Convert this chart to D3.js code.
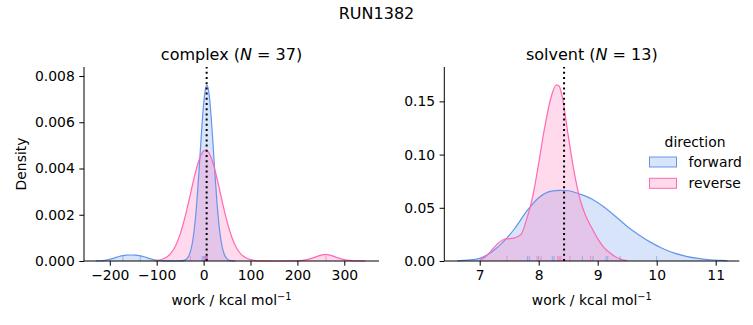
<!DOCTYPE html>
<html>
<head>
<meta charset="utf-8">
<script src="https://cdn.jsdelivr.net/npm/d3@7"></script>
<style>
  body { margin: 0; background: #fff; }
  svg, svg text { font-family: "DejaVu Sans", sans-serif; }
  .tick text { font-size: 13.9px; fill: #000; }
  .tick line, .domain { stroke: #000; stroke-width: 1; }
</style>
</head>
<body>
<svg width="753" height="325"></svg>
<script>
// complex leg, forward: [work, density]
const complexForward = [
  [-230, 0.000003], [-220, 0.000011], [-210, 0.000031], [-200, 0.000073], [-190, 0.000132],
  [-180, 0.000194], [-172, 0.000231], [-165, 0.00025], [-155, 0.000259], [-145, 0.000252],
  [-137, 0.000231], [-125, 0.000171], [-115, 0.000107], [-105, 0.000053], [-95, 0.000021],
  [-85, 0.0000065], [-75, 0.0000016], [-60, 0.000001], [-50, 0.0000033], [-40, 0.00004],
  [-30, 0.00029], [-20, 0.00135], [-15, 0.0024], [-10, 0.00382], [-5, 0.0054],
  [0, 0.00677], [4, 0.00744], [7, 0.0076], [10, 0.00744], [14, 0.00677],
  [19, 0.0054], [24, 0.00382], [29, 0.0024], [34, 0.00135], [39, 0.00067],
  [44, 0.00029], [50, 0.000093], [57, 0.00002], [68, 0.000001]
];
const complexReverse = [
  [-105, 0.000015], [-100, 0.000025], [-90, 0.000064], [-80, 0.000153], [-70, 0.00033],
  [-60, 0.00065], [-50, 0.00116], [-40, 0.00187], [-30, 0.00273], [-20, 0.00362],
  [-10, 0.00436], [0, 0.00476], [5, 0.0048], [10, 0.00472], [20, 0.00424],
  [30, 0.00345], [40, 0.00255], [50, 0.00171], [60, 0.00104], [70, 0.00057],
  [80, 0.00029], [90, 0.00014], [100, 0.00006], [110, 0.00002], [120, 0.000005],
  [150, 0.000001], [195, 0.000003], [205, 0.000012], [215, 0.000035], [225, 0.000079],
  [235, 0.000147], [245, 0.000222], [255, 0.000273], [260, 0.00028], [265, 0.000273],
  [275, 0.000222], [285, 0.000147], [295, 0.000079], [305, 0.000035], [315, 0.000012],
  [325, 0.000003], [345, 0.0000005]
];
const solventForward = [
  [6.62, 0.0002], [6.8, 0.0008], [7.0, 0.0025], [7.2, 0.0085], [7.4, 0.018],
  [7.6, 0.031], [7.8, 0.047], [8.0, 0.0595], [8.2, 0.0655], [8.36, 0.0664],
  [8.5, 0.066], [8.7, 0.0628], [8.9, 0.0582], [9.1, 0.051], [9.3, 0.042],
  [9.5, 0.0325], [9.7, 0.0245], [9.9, 0.0175], [10.1, 0.0118], [10.3, 0.0074],
  [10.5, 0.0044], [10.7, 0.0024], [10.9, 0.0012], [11.1, 0.0005], [11.2, 0.0002]
];
const solventReverse = [
  [7.0, 0.001], [7.1, 0.004], [7.2, 0.01], [7.3, 0.016], [7.4, 0.02],
  [7.5, 0.021], [7.6, 0.022], [7.7, 0.025], [7.8, 0.04], [7.9, 0.061],
  [8.0, 0.092], [8.1, 0.125], [8.2, 0.152], [8.3, 0.1655], [8.35, 0.164],
  [8.4, 0.154], [8.5, 0.118], [8.6, 0.084], [8.7, 0.058], [8.8, 0.042],
  [8.9, 0.031], [9.0, 0.021], [9.1, 0.013], [9.2, 0.008], [9.3, 0.004],
  [9.4, 0.0015], [9.5, 0.0003]
];

// individual work values (rug marks)
const complexForwardRug = [-172, -135, -3, 0, 2, 4, 5, 6, 7, 8];
const complexReverseRug = [-28, 4, 5, 6, 7, 8, 261];
const solventForwardRug = [7.81, 7.84, 8.0, 8.23, 8.26, 8.74, 8.92, 9.14, 9.17, 9.38, 10.0];
const solventReverseRug = [7.46, 7.97, 8.04, 8.32, 8.34, 8.36, 8.38, 8.53, 8.88];

const complexMean = 6.5;
const solventMean = 8.43;

const complexXTicks = [-200, -100, 0, 100, 200, 300];
const complexYTicks = [0, 0.002, 0.004, 0.006, 0.008];
const solventXTicks = [7, 8, 9, 10, 11];
const solventYTicks = [0, 0.05, 0.1, 0.15];

const directions = ['forward', 'reverse'];
const colors = {forward: '#6495ED', reverse: '#FF69B4'};

const svg = d3.select('svg');

svg.append('text')
  .attr('x', 376.5).attr('y', 19)
  .attr('text-anchor', 'middle')
  .style('font-size', '16px')
  .text('RUN1382');

function panel(opts) {
  const x = d3.scaleLinear().domain(opts.xDomain).range([opts.left, opts.right]);
  const y = d3.scaleLinear().domain(opts.yDomain).range([261, 67]);
  const g = svg.append('g');

  const area = d3.area().x(d => x(d[0])).y0(y(0)).y1(d => y(d[1])).curve(d3.curveMonotoneX);
  const line = d3.line().x(d => x(d[0])).y(d => y(d[1])).curve(d3.curveMonotoneX);

  directions.forEach(dir => {
    g.append('path').attr('d', area(opts.curves[dir]))
      .attr('fill', colors[dir]).attr('fill-opacity', 0.25);
  });
  directions.forEach(dir => {
    g.append('path').attr('d', line(opts.curves[dir]))
      .attr('fill', 'none').attr('stroke', colors[dir]).attr('stroke-width', 1.2);
  });

  directions.forEach(dir => {
    g.selectAll(null).data(opts.rugs[dir]).enter().append('line')
      .attr('x1', d => x(d)).attr('x2', d => x(d))
      .attr('y1', y(0)).attr('y2', y(0) - 5)
      .attr('stroke', colors[dir]).attr('stroke-opacity', 0.6).attr('stroke-width', 1);
  });

  g.append('line')
    .attr('x1', x(opts.mean)).attr('x2', x(opts.mean))
    .attr('y1', 261).attr('y2', 67)
    .attr('stroke', '#000').attr('stroke-width', 2)
    .attr('stroke-dasharray', '2,3.2');

  g.append('g').attr('transform', 'translate(0,261)')
    .call(d3.axisBottom(x).tickValues(opts.xTicks).tickSize(4.7).tickPadding(4.5)
      .tickFormat(d => d3.format('')(d).replace('-', '\u2212')))
    .attr('font-family', null).attr('font-size', null);
  g.append('g').attr('transform', `translate(${opts.left},0)`)
    .call(d3.axisLeft(y).tickValues(opts.yTicks).tickSize(4.7).tickPadding(4.5)
      .tickFormat(d3.format(opts.yFormat)))
    .attr('font-family', null).attr('font-size', null);
  g.selectAll('.domain').attr('d', null);
  g.append('line').attr('x1', opts.left).attr('x2', opts.left).attr('y1', 67).attr('y2', 261).attr('stroke', '#000');
  g.append('line').attr('x1', opts.left).attr('x2', opts.right).attr('y1', 261).attr('y2', 261).attr('stroke', '#000');

  const title = g.append('text')
    .attr('x', (opts.left + opts.right) / 2).attr('y', 60)
    .attr('text-anchor', 'middle').style('font-size', '16px');
  title.append('tspan').text(opts.name + ' (');
  title.append('tspan').style('font-style', 'italic').text('N');
  title.append('tspan').text(' = ' + opts.n + ')');

  const xl = g.append('text')
    .attr('x', (opts.left + opts.right) / 2).attr('y', 305)
    .attr('text-anchor', 'middle').style('font-size', '13.9px');
  xl.append('tspan').text('work / kcal mol');
  xl.append('tspan').attr('dy', -5).style('font-size', '9.8px').text('\u22121');
}

panel({
  name: 'complex', n: 37, left: 84, right: 379,
  xDomain: [-255, 374], yDomain: [0, 0.00839],
  curves: {forward: complexForward, reverse: complexReverse},
  rugs: {forward: complexForwardRug, reverse: complexReverseRug},
  mean: complexMean, xTicks: complexXTicks, yTicks: complexYTicks, yFormat: '.3f'
});
panel({
  name: 'solvent', n: 13, left: 444.3, right: 739.3,
  xDomain: [6.40, 11.40], yDomain: [0, 0.1823],
  curves: {forward: solventForward, reverse: solventReverse},
  rugs: {forward: solventForwardRug, reverse: solventReverseRug},
  mean: solventMean, xTicks: solventXTicks, yTicks: solventYTicks, yFormat: '.2f'
});

svg.append('text')
  .attr('transform', 'translate(26,164) rotate(-90)')
  .attr('text-anchor', 'middle').style('font-size', '13.9px')
  .text('Density');

// legend
const legend = svg.append('g');
legend.append('text').attr('x', 695).attr('y', 147)
  .attr('text-anchor', 'middle').style('font-size', '13.9px').text('direction');
directions.forEach((dir, i) => {
  const yy = 157 + i * 21.3;
  legend.append('rect').attr('x', 649.5).attr('y', yy).attr('width', 27).attr('height', 10)
    .attr('fill', colors[dir]).attr('fill-opacity', 0.25)
    .attr('stroke', colors[dir]).attr('stroke-width', 1);
  legend.append('text').attr('x', 688.5).attr('y', yy + 9.5)
    .style('font-size', '13.9px').text(dir);
});
</script>
</body>
</html>
